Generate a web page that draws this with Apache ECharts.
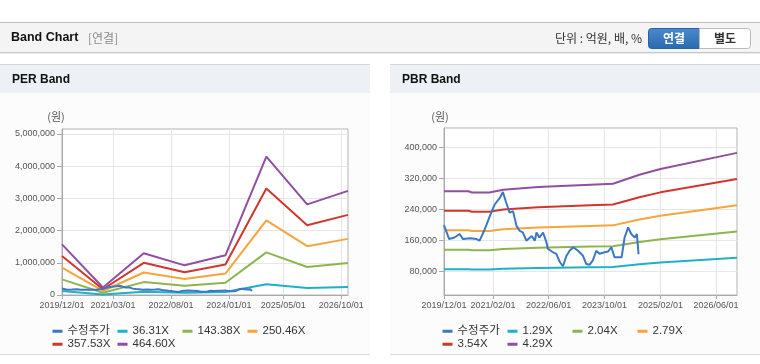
<!DOCTYPE html>
<html><head><meta charset="utf-8">
<script src="https://cdn.jsdelivr.net/npm/echarts@6/dist/echarts.min.js"></script>
<style>html,body{margin:0;padding:0;background:#fff}#c{width:760px;height:364px}</style>
</head><body><div id="c"></div>
<script>
// ---- data ----
const priceDates = ['2019-12-01','2020-01-15','2020-03-01','2020-04-15','2020-05-15','2020-07-15','2020-09-10','2020-10-07','2020-11-22','2021-01-04','2021-02-15','2021-04-01','2021-04-28','2021-05-28','2021-06-25','2021-07-25','2021-08-25','2021-09-22','2021-10-19','2021-11-19','2022-01-04','2022-02-01','2022-02-15','2022-03-13','2022-04-13','2022-05-13','2022-05-25','2022-07-10','2022-08-07','2022-09-07','2022-10-04','2022-11-04','2022-12-01','2023-01-01','2023-02-13','2023-03-28','2023-04-25','2023-05-25','2023-06-22','2023-07-22','2023-08-19','2023-10-04','2023-11-01','2023-12-01','2023-12-28','2024-02-28','2024-03-25','2024-04-25','2024-05-22','2024-06-07','2024-06-22','2024-07-10','2024-07-25'];
const priceValues = [200000,164000,168000,177000,164000,166000,164000,160000,190000,223000,253000,270000,285000,257000,232000,236000,198000,185000,181000,160000,172000,160000,181000,168000,181000,156000,139000,130000,126000,105000,94000,121000,134000,143000,134000,121000,100000,98000,109000,134000,126000,130000,132000,143000,117000,117000,168000,194000,177000,181000,168000,177000,125000];

const perDates = ['2019-12-01','2020-12-01','2021-12-01','2022-12-01','2023-12-01','2024-12-01','2025-12-01','2026-12-01'];
const per36  = [123000, 18000, 101000, 72000, 96000, 335000, 220000, 252000];
const per143 = [485000, 72000, 400000, 284000, 380000, 1324000, 867000, 996000];
const per250 = [847000, 125000, 699000, 496000, 664000, 2313000, 1515000, 1741000];
const per357 = [1208000, 179000, 998000, 708000, 947000, 3301000, 2163000, 2485000];
const per464 = [1570000, 232000, 1296000, 920000, 1231000, 4290000, 2811000, 3229000];

const pbrDates = ['2019-12-01','2020-07-01','2020-08-01','2021-01-01','2021-05-01','2022-03-01','2023-06-01','2023-12-15','2024-08-01','2025-02-01','2026-12-01'];
const pbr129 = [86300, 86300, 85400, 85400, 87500, 89600, 91400, 92200, 99100, 103600, 116100];
const pbr204 = [136500, 136500, 135000, 135000, 138400, 141700, 144600, 145700, 156700, 163800, 183500];
const pbr279 = [186600, 186600, 184700, 184700, 189200, 193800, 197700, 199300, 214300, 224000, 251000];
const pbr354 = [236800, 236800, 234300, 234300, 240100, 245900, 250900, 252900, 271900, 284300, 318500];
const pbr429 = [287000, 287000, 284000, 284000, 291000, 298000, 304000, 306500, 329500, 344500, 386000];

const perTickDates = ['2019-12-01','2021-03-01','2022-08-01','2024-01-01','2025-05-01','2026-10-01'];
const pbrTickDates = ['2019-12-01','2021-02-01','2022-06-01','2023-10-01','2025-02-01','2026-06-01'];
const perYTicks = [0,1000000,2000000,3000000,4000000,5000000];
const pbrYTicks = [80000,160000,240000,320000,400000];

const perNames = ['수정주가','36.31X','143.38X','250.46X','357.53X','464.60X'];
const pbrNames = ['수정주가','1.29X','2.04X','2.79X','3.54X','4.29X'];
const colors = ['#3b78c4','#1fb0c8','#8db54f','#f5a53b','#d2362b','#904f9f'];

// ---- helpers ----
const ts = d => Date.parse(d + 'T00:00:00Z');
const zip = (ds, vs) => ds.map((d, i) => [ts(d), vs[i]]);
const pad = n => (n < 10 ? '0' : '') + n;
const fmtDate = v => { const d = new Date(v); return d.getUTCFullYear() + '/' + pad(d.getUTCMonth() + 1) + '/' + pad(d.getUTCDate()); };
const fmtNum = v => String(Math.round(v)).replace(/\B(?=(\d{3})+(?!\d))/g, ',');

const minX = ts('2019-12-01'), maxX = ts('2026-12-01');
const FONT = 'Arial, "Liberation Sans", "Noto Sans CJK KR", sans-serif';

function xAxis(grid, ticks) {
  const cv = ticks.map(ts);
  return {
    type: 'value', gridIndex: grid, min: minX, max: maxX,
    axisLine: { show: true, lineStyle: { color: '#aaaaaa' } },
    axisTick: { show: true, length: 4, customValues: cv, lineStyle: { color: '#aaaaaa' } },
    axisLabel: { customValues: cv, formatter: fmtDate, fontSize: 9, color: '#555', margin: 6, fontFamily: FONT, hideOverlap: false },
    splitLine: { show: true, lineStyle: { color: '#e6e6e6' } }
  };
}
function yAxis(grid, min, max, ticks) {
  return {
    type: 'value', gridIndex: grid, min: min, max: max,
    axisLine: { show: true, lineStyle: { color: '#aaaaaa' } },
    axisTick: { show: true, length: 5, customValues: ticks, lineStyle: { color: '#aaaaaa' } },
    axisLabel: { customValues: ticks, formatter: fmtNum, fontSize: 9, color: '#555', margin: 7, fontFamily: FONT },
    splitLine: { show: true, lineStyle: { color: '#e6e6e6' } }
  };
}
function line(name, data, idx, color, z) {
  return { type: 'line', name, data, xAxisIndex: idx, yAxisIndex: idx, symbol: 'none', showSymbol: false,
    lineStyle: { width: 2, color }, itemStyle: { color }, z: z, animation: false };
}
const perBands = [per36, per143, per250, per357, per464];
const pbrBands = [pbr129, pbr204, pbr279, pbr354, pbr429];
const series = [];
perBands.forEach((b, i) => series.push(line(perNames[i + 1], zip(perDates, b), 0, colors[i + 1], 2)));
series.push(line(perNames[0], zip(priceDates, priceValues), 0, colors[0], 3));
pbrBands.forEach((b, i) => series.push(line(pbrNames[i + 1], zip(pbrDates, b), 1, colors[i + 1], 2)));
series.push(line(pbrNames[0], zip(priceDates, priceValues), 1, colors[0], 3));

// one legend component per item so the columns sit on a fixed 65px pitch
function legendsFor(names, left0) {
  return names.map((n, i) => ({
    left: left0 + (i % 4) * 65, top: i < 4 ? 325.5 : 338.5, data: [n], padding: 0,
    itemWidth: 10, itemHeight: 3, icon: 'rect', selectedMode: false,
    textStyle: { fontSize: 11.5, color: '#333', fontFamily: FONT }
  }));
}

function panel(x, title) {
  return [
    { type: 'rect', shape: { x: x, y: 64, width: 370, height: 1 }, style: { fill: '#d6d6d6' }, silent: true },
    { type: 'rect', shape: { x: x, y: 65, width: 370, height: 28 }, style: { fill: '#edf1f6' }, silent: true },
    { type: 'rect', shape: { x: x, y: 93, width: 370, height: 261 }, style: { fill: '#fcfcfc' }, silent: true },
    { type: 'rect', shape: { x: x, y: 354, width: 370, height: 1 }, style: { fill: '#dadada' }, silent: true },
    { type: 'text', x: x + 12, y: 80, style: { text: title, font: 'bold 12px Arial, "Liberation Sans", sans-serif', fill: '#111', verticalAlign: 'middle' }, silent: true }
  ];
}

const graphic = [
  { type: 'rect', shape: { x: 0, y: 22, width: 760, height: 1 }, style: { fill: '#bdbdbd' }, silent: true },
  { type: 'rect', shape: { x: 0, y: 23, width: 760, height: 29 }, style: { fill: '#f4f4f4' }, silent: true },
  { type: 'rect', shape: { x: 0, y: 52, width: 760, height: 1 }, style: { fill: '#c8c8c8' }, silent: true },
  { type: 'rect', shape: { x: 0, y: 53, width: 760, height: 1 }, style: { fill: '#ececec' }, silent: true },
  { type: 'text', x: 11, y: 38, style: { text: 'Band Chart', font: 'bold 12.5px Arial, "Liberation Sans", sans-serif', fill: '#111', verticalAlign: 'middle' }, silent: true },
  { type: 'text', x: 88, y: 38, style: { text: '[연결]', font: '12px "Noto Sans CJK KR", sans-serif', fill: '#8a8a8a', verticalAlign: 'middle' }, silent: true },
  { type: 'text', x: 642, y: 38, style: { text: '단위 : 억원, 배, %', font: '12px "Noto Sans CJK KR", sans-serif', fill: '#333', align: 'right', verticalAlign: 'middle' }, silent: true },
  { type: 'rect', shape: { x: 648.5, y: 28.5, width: 51, height: 20, r: [3, 0, 0, 3] },
    style: { fill: new echarts.graphic.LinearGradient(0, 0, 0, 1, [{ offset: 0, color: '#4a8ad0' }, { offset: 1, color: '#2a69ad' }]), stroke: '#2a63a3', lineWidth: 1 }, silent: true },
  { type: 'text', x: 674, y: 38.5, style: { text: '연결', font: 'bold 12px "Noto Sans CJK KR", sans-serif', fill: '#fff', align: 'center', verticalAlign: 'middle' }, silent: true },
  { type: 'rect', shape: { x: 699.5, y: 28.5, width: 51, height: 20, r: [0, 3, 3, 0] }, style: { fill: '#ffffff', stroke: '#bbbbbb', lineWidth: 1 }, silent: true },
  { type: 'text', x: 725, y: 38.5, style: { text: '별도', font: 'bold 12px "Noto Sans CJK KR", sans-serif', fill: '#333', align: 'center', verticalAlign: 'middle' }, silent: true },
  ...panel(0, 'PER Band'),
  ...panel(390, 'PBR Band'),
  { type: 'text', x: 56, y: 117, style: { text: '(원)', font: '11px "Noto Sans CJK KR", sans-serif', fill: '#555', align: 'center', verticalAlign: 'middle' }, silent: true },
  { type: 'text', x: 440, y: 117, style: { text: '(원)', font: '11px "Noto Sans CJK KR", sans-serif', fill: '#555', align: 'center', verticalAlign: 'middle' }, silent: true }
];
graphic.forEach(g => { g.z = -10; g.zlevel = 0; });

const chart = echarts.init(document.getElementById('c'), null, { renderer: 'canvas' });
chart.setOption({
  animation: false,
  backgroundColor: '#ffffff',
  graphic: graphic,
  grid: [
    { left: 62, top: 129, width: 286, height: 166, show: true, backgroundColor: '#ffffff', borderColor: '#b3b3b3', borderWidth: 1 },
    { left: 444, top: 128, width: 293, height: 167, show: true, backgroundColor: '#ffffff', borderColor: '#b3b3b3', borderWidth: 1 }
  ],
  xAxis: [xAxis(0, perTickDates), xAxis(1, pbrTickDates)],
  yAxis: [yAxis(0, 0, 5150000, perYTicks), yAxis(1, 20000, 450000, pbrYTicks)],
  legend: [...legendsFor(perNames, 52.5), ...legendsFor(pbrNames, 442.5)],
  series: series
});
</script></body></html>
